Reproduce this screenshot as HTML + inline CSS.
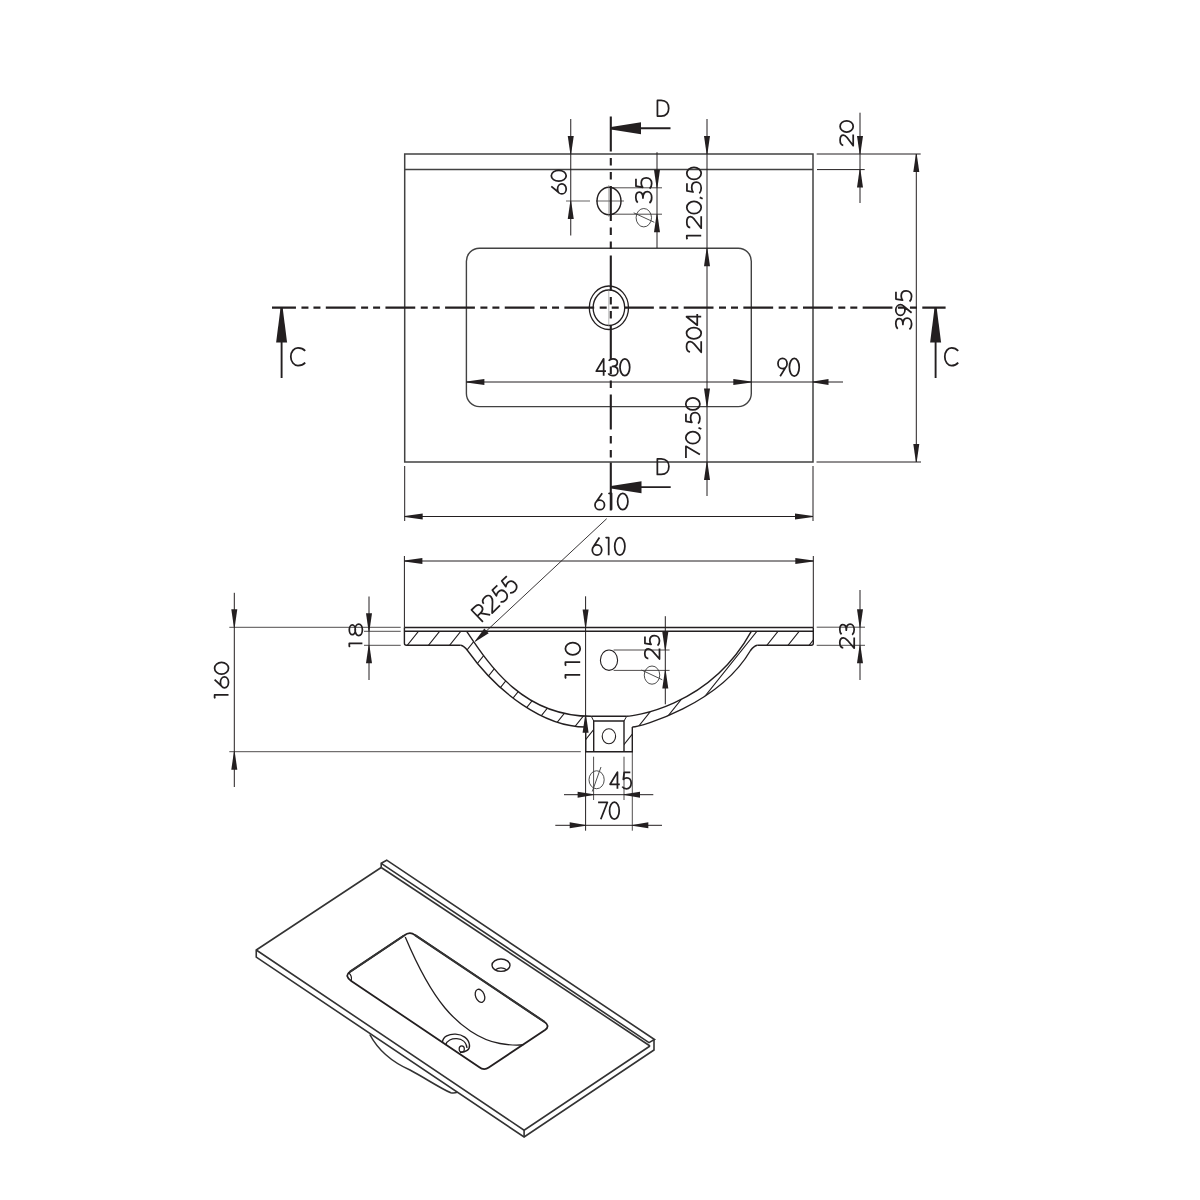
<!DOCTYPE html>
<html><head><meta charset="utf-8"><style>
html,body{margin:0;padding:0;background:#fff;}
svg{display:block;}
text{font-family:"Liberation Sans",sans-serif;}
svg text{opacity:0.999;}
</style></head><body>
<svg width="1200" height="1200" viewBox="0 0 1200 1200">
<rect width="1200" height="1200" fill="#fff"/>
<path d="M404.7,154.0H813.0V462.0H404.7Z" stroke="#424242" stroke-width="1.5" fill="none" />
<line x1="404.70" y1="169.60" x2="813.00" y2="169.60" stroke="#424242" stroke-width="1.5" />
<rect x="466.4" y="248.2" width="284.9" height="158.4" rx="13" ry="13" fill="none" stroke="#424242" stroke-width="1.4"/>
<ellipse cx="609" cy="201" rx="12" ry="13.8" fill="none" stroke="#231f20" stroke-width="1.4"/>
<line x1="566.00" y1="201.00" x2="590.00" y2="201.00" stroke="#231f20" stroke-width="0.7" />
<line x1="596.00" y1="201.00" x2="624.00" y2="201.00" stroke="#231f20" stroke-width="0.7" />
<line x1="608.80" y1="185.00" x2="608.80" y2="217.00" stroke="#777" stroke-width="0.6" />
<ellipse cx="608.9" cy="307.75" rx="19.6" ry="21.75" fill="none" stroke="#231f20" stroke-width="1.3"/>
<ellipse cx="608.9" cy="307.75" rx="15.8" ry="17.75" fill="none" stroke="#231f20" stroke-width="1.3"/>
<line x1="608.80" y1="290.00" x2="608.80" y2="326.00" stroke="#888" stroke-width="0.6" />
<line x1="272.00" y1="307.60" x2="945.60" y2="307.60" stroke="#231f20" stroke-width="2.1" stroke-dasharray="29.8 5.5 7 5 7 5.35" stroke-dashoffset="5.85"/>
<line x1="610.80" y1="116.50" x2="610.80" y2="462.00" stroke="#231f20" stroke-width="2.1" stroke-dasharray="35 6.5 7.5 6.5 7.5 6.5"/>
<line x1="610.80" y1="462.50" x2="610.80" y2="510.50" stroke="#231f20" stroke-width="2.1" />
<line x1="611.00" y1="128.25" x2="670.50" y2="128.25" stroke="#231f20" stroke-width="1.8" />
<path d="M611.00,127.05L641.00,122.25L641.00,134.25L611.00,129.45Z" fill="#231f20" stroke="none"/>
<line x1="611.00" y1="487.20" x2="670.70" y2="487.20" stroke="#231f20" stroke-width="1.8" />
<path d="M611.00,486.00L641.50,481.20L641.50,493.20L611.00,488.40Z" fill="#231f20" stroke="none"/>
<g transform="translate(656.60,100.40) scale(0.2086,0.1570)" fill="none" stroke="#231f20" stroke-width="1.75" stroke-linejoin="round"><path vector-effect="non-scaling-stroke" transform="translate(0.0,0)" d="M4,0 V100 H22 C46,100 58,78 58,50 C58,22 46,0 22,0 Z"/></g>
<g transform="translate(656.50,458.80) scale(0.2138,0.1560)" fill="none" stroke="#231f20" stroke-width="1.75" stroke-linejoin="round"><path vector-effect="non-scaling-stroke" transform="translate(0.0,0)" d="M4,0 V100 H22 C46,100 58,78 58,50 C58,22 46,0 22,0 Z"/></g>
<line x1="281.60" y1="307.60" x2="281.60" y2="378.00" stroke="#231f20" stroke-width="1.9" />
<path d="M282.60,307.60L287.10,342.40L276.10,342.40L280.60,307.60Z" fill="#231f20" stroke="none"/>
<line x1="935.60" y1="307.60" x2="935.60" y2="378.00" stroke="#231f20" stroke-width="1.9" />
<path d="M936.60,307.60L941.10,342.40L930.10,342.40L934.60,307.60Z" fill="#231f20" stroke="none"/>
<g transform="translate(290.80,347.80) scale(0.2483,0.1780)" fill="none" stroke="#231f20" stroke-width="1.75" stroke-linejoin="round"><path vector-effect="non-scaling-stroke" transform="translate(0.0,0)" d="M58,17 C51,6 40,0 29,0 C13,0 0,22 0,50 C0,78 13,100 29,100 C40,100 51,94 58,83"/></g>
<g transform="translate(944.80,347.80) scale(0.2310,0.1780)" fill="none" stroke="#231f20" stroke-width="1.75" stroke-linejoin="round"><path vector-effect="non-scaling-stroke" transform="translate(0.0,0)" d="M58,17 C51,6 40,0 29,0 C13,0 0,22 0,50 C0,78 13,100 29,100 C40,100 51,94 58,83"/></g>
<line x1="570.75" y1="119.00" x2="570.75" y2="235.50" stroke="#231f20" stroke-width="1.0" />
<path d="M570.35,154.00L567.75,136.00L573.75,136.00L571.15,154.00Z" fill="#231f20" stroke="none"/>
<path d="M571.15,201.00L573.75,219.00L567.75,219.00L570.35,201.00Z" fill="#231f20" stroke="none"/>
<g transform="translate(551.30,194.20) rotate(-90) scale(0.2025,0.1490)" fill="none" stroke="#231f20" stroke-width="1.75" stroke-linejoin="round"><path vector-effect="non-scaling-stroke" transform="translate(0.0,0)" d="M39,0 L6,54 M1,71A25,29 0 1,0 51,71A25,29 0 1,0 1,71Z"/><path vector-effect="non-scaling-stroke" transform="translate(64.0,0)" d="M0,50A27,50 0 1,0 54,50A27,50 0 1,0 0,50Z"/></g>
<line x1="612.50" y1="187.80" x2="662.00" y2="187.80" stroke="#231f20" stroke-width="0.8" />
<line x1="612.50" y1="214.20" x2="662.00" y2="214.20" stroke="#231f20" stroke-width="0.8" />
<line x1="657.00" y1="152.20" x2="657.00" y2="248.00" stroke="#231f20" stroke-width="1.0" />
<path d="M656.60,187.80L654.00,169.80L660.00,169.80L657.40,187.80Z" fill="#231f20" stroke="none"/>
<path d="M657.40,214.20L660.00,232.20L654.00,232.20L656.60,214.20Z" fill="#231f20" stroke="none"/>
<g transform="translate(635.80,203.20) rotate(-90) scale(0.2153,0.1590)" fill="none" stroke="#231f20" stroke-width="1.75" stroke-linejoin="round"><path vector-effect="non-scaling-stroke" transform="translate(0.0,0)" d="M3,12 C9,4 17,0 27,0 C41,0 51,9 51,22 C51,36 41,45 24,45 C43,45 54,57 54,72 C54,88 42,100 27,100 C16,100 6,95 1,86"/><path vector-effect="non-scaling-stroke" transform="translate(66.0,0)" d="M47,1 H13 L8,43 C14,37 21,34 28,34 C43,34 52,47 52,66 C52,86 41,100 26,100 C16,100 7,95 2,87"/></g>
<line x1="707.00" y1="119.00" x2="707.00" y2="496.00" stroke="#231f20" stroke-width="1.0" />
<path d="M706.60,154.00L704.00,136.00L710.00,136.00L707.40,154.00Z" fill="#231f20" stroke="none"/>
<path d="M707.40,248.20L710.00,266.20L704.00,266.20L706.60,248.20Z" fill="#231f20" stroke="none"/>
<path d="M706.60,406.60L704.00,388.60L710.00,388.60L707.40,406.60Z" fill="#231f20" stroke="none"/>
<path d="M707.40,462.00L710.00,480.00L704.00,480.00L706.60,462.00Z" fill="#231f20" stroke="none"/>
<g transform="translate(686.80,239.20) rotate(-90) scale(0.2247,0.1440)" fill="none" stroke="#231f20" stroke-width="1.75" stroke-linejoin="round"><path vector-effect="non-scaling-stroke" transform="translate(0.0,0)" d="M0,4 L4,0 H16 V100"/><path vector-effect="non-scaling-stroke" transform="translate(48.0,0)" d="M3,24 C4,9 15,0 28,0 C42,0 52,10 52,25 C52,36 47,44 40,53 L1,100 H54"/><path vector-effect="non-scaling-stroke" transform="translate(114.0,0)" d="M0,50A27,50 0 1,0 54,50A27,50 0 1,0 0,50Z"/><path vector-effect="non-scaling-stroke" transform="translate(180.0,0)" d="M6,90 L0,110"/><path vector-effect="non-scaling-stroke" transform="translate(202.0,0)" d="M47,1 H13 L8,43 C14,37 21,34 28,34 C43,34 52,47 52,66 C52,86 41,100 26,100 C16,100 7,95 2,87"/><path vector-effect="non-scaling-stroke" transform="translate(266.0,0)" d="M0,50A27,50 0 1,0 54,50A27,50 0 1,0 0,50Z"/></g>
<g transform="translate(686.55,352.45) rotate(-90) scale(0.2065,0.1465)" fill="none" stroke="#231f20" stroke-width="1.75" stroke-linejoin="round"><path vector-effect="non-scaling-stroke" transform="translate(0.0,0)" d="M3,24 C4,9 15,0 28,0 C42,0 52,10 52,25 C52,36 47,44 40,53 L1,100 H54"/><path vector-effect="non-scaling-stroke" transform="translate(66.0,0)" d="M0,50A27,50 0 1,0 54,50A27,50 0 1,0 0,50Z"/><path vector-effect="non-scaling-stroke" transform="translate(132.0,0)" d="M41,100 V0 L0,73 H54"/></g>
<g transform="translate(685.80,457.90) rotate(-90) scale(0.2219,0.1410)" fill="none" stroke="#231f20" stroke-width="1.75" stroke-linejoin="round"><path vector-effect="non-scaling-stroke" transform="translate(0.0,0)" d="M0,1 H52 L15,100"/><path vector-effect="non-scaling-stroke" transform="translate(64.0,0)" d="M0,50A27,50 0 1,0 54,50A27,50 0 1,0 0,50Z"/><path vector-effect="non-scaling-stroke" transform="translate(130.0,0)" d="M6,90 L0,110"/><path vector-effect="non-scaling-stroke" transform="translate(152.0,0)" d="M47,1 H13 L8,43 C14,37 21,34 28,34 C43,34 52,47 52,66 C52,86 41,100 26,100 C16,100 7,95 2,87"/><path vector-effect="non-scaling-stroke" transform="translate(216.0,0)" d="M0,50A27,50 0 1,0 54,50A27,50 0 1,0 0,50Z"/></g>
<line x1="816.70" y1="154.00" x2="920.70" y2="154.00" stroke="#231f20" stroke-width="1.0" />
<line x1="817.00" y1="169.60" x2="864.70" y2="169.60" stroke="#231f20" stroke-width="1.0" />
<line x1="860.00" y1="112.70" x2="860.00" y2="203.00" stroke="#231f20" stroke-width="1.0" />
<path d="M859.60,154.00L857.00,136.00L863.00,136.00L860.40,154.00Z" fill="#231f20" stroke="none"/>
<path d="M860.40,169.60L863.00,187.60L857.00,187.60L859.60,169.60Z" fill="#231f20" stroke="none"/>
<g transform="translate(840.10,145.90) rotate(-90) scale(0.2092,0.1310)" fill="none" stroke="#231f20" stroke-width="1.75" stroke-linejoin="round"><path vector-effect="non-scaling-stroke" transform="translate(0.0,0)" d="M3,24 C4,9 15,0 28,0 C42,0 52,10 52,25 C52,36 47,44 40,53 L1,100 H54"/><path vector-effect="non-scaling-stroke" transform="translate(66.0,0)" d="M0,50A27,50 0 1,0 54,50A27,50 0 1,0 0,50Z"/></g>
<line x1="816.50" y1="462.00" x2="921.00" y2="462.00" stroke="#231f20" stroke-width="1.0" />
<line x1="916.30" y1="154.00" x2="916.30" y2="462.00" stroke="#231f20" stroke-width="1.0" />
<path d="M916.70,154.00L919.30,172.00L913.30,172.00L915.90,154.00Z" fill="#231f20" stroke="none"/>
<path d="M915.90,462.00L913.30,444.00L919.30,444.00L916.70,462.00Z" fill="#231f20" stroke="none"/>
<g transform="translate(895.80,329.60) rotate(-90) scale(0.2132,0.1580)" fill="none" stroke="#231f20" stroke-width="1.75" stroke-linejoin="round"><path vector-effect="non-scaling-stroke" transform="translate(0.0,0)" d="M3,12 C9,4 17,0 27,0 C41,0 51,9 51,22 C51,36 41,45 24,45 C43,45 54,57 54,72 C54,88 42,100 27,100 C16,100 6,95 1,86"/><path vector-effect="non-scaling-stroke" transform="translate(66.0,0)" d="M1,29A25,29 0 1,0 51,29A25,29 0 1,0 1,29Z M46,46 L13,100"/><path vector-effect="non-scaling-stroke" transform="translate(130.0,0)" d="M47,1 H13 L8,43 C14,37 21,34 28,34 C43,34 52,47 52,66 C52,86 41,100 26,100 C16,100 7,95 2,87"/></g>
<line x1="466.40" y1="382.00" x2="843.00" y2="382.00" stroke="#231f20" stroke-width="1.0" />
<path d="M466.40,381.60L484.40,379.00L484.40,385.00L466.40,382.40Z" fill="#231f20" stroke="none"/>
<path d="M751.30,382.40L733.30,385.00L733.30,379.00L751.30,381.60Z" fill="#231f20" stroke="none"/>
<path d="M813.00,381.60L828.50,379.00L828.50,385.00L813.00,382.40Z" fill="#231f20" stroke="none"/>
<g transform="translate(596.30,358.80) scale(0.1796,0.1690)" fill="none" stroke="#231f20" stroke-width="1.75" stroke-linejoin="round"><path vector-effect="non-scaling-stroke" transform="translate(0.0,0)" d="M41,100 V0 L0,73 H54"/><path vector-effect="non-scaling-stroke" transform="translate(66.0,0)" d="M3,12 C9,4 17,0 27,0 C41,0 51,9 51,22 C51,36 41,45 24,45 C43,45 54,57 54,72 C54,88 42,100 27,100 C16,100 6,95 1,86"/><path vector-effect="non-scaling-stroke" transform="translate(132.0,0)" d="M0,50A27,50 0 1,0 54,50A27,50 0 1,0 0,50Z"/></g>
<g transform="translate(777.80,358.40) scale(0.1814,0.1780)" fill="none" stroke="#231f20" stroke-width="1.75" stroke-linejoin="round"><path vector-effect="non-scaling-stroke" transform="translate(0.0,0)" d="M1,29A25,29 0 1,0 51,29A25,29 0 1,0 1,29Z M46,46 L13,100"/><path vector-effect="non-scaling-stroke" transform="translate(64.0,0)" d="M0,50A27,50 0 1,0 54,50A27,50 0 1,0 0,50Z"/></g>
<line x1="404.70" y1="466.00" x2="404.70" y2="521.00" stroke="#231f20" stroke-width="1.0" />
<line x1="813.00" y1="466.00" x2="813.00" y2="521.00" stroke="#231f20" stroke-width="1.0" />
<line x1="404.70" y1="516.50" x2="813.00" y2="516.50" stroke="#231f20" stroke-width="1.0" />
<path d="M404.70,516.10L422.70,513.50L422.70,519.50L404.70,516.90Z" fill="#231f20" stroke="none"/>
<path d="M813.00,516.90L795.00,519.50L795.00,513.50L813.00,516.10Z" fill="#231f20" stroke="none"/>
<g transform="translate(594.80,493.30) scale(0.1902,0.1640)" fill="none" stroke="#231f20" stroke-width="1.75" stroke-linejoin="round"><path vector-effect="non-scaling-stroke" transform="translate(0.0,0)" d="M39,0 L6,54 M1,71A25,29 0 1,0 51,71A25,29 0 1,0 1,71Z"/><path vector-effect="non-scaling-stroke" transform="translate(72.0,0)" d="M0,4 L4,0 H16 V100"/><path vector-effect="non-scaling-stroke" transform="translate(120.0,0)" d="M0,50A27,50 0 1,0 54,50A27,50 0 1,0 0,50Z"/></g>
<line x1="404.40" y1="556.00" x2="404.40" y2="627.50" stroke="#231f20" stroke-width="1.0" />
<line x1="813.30" y1="556.00" x2="813.30" y2="627.50" stroke="#231f20" stroke-width="1.0" />
<line x1="404.40" y1="561.00" x2="813.30" y2="561.00" stroke="#231f20" stroke-width="1.0" />
<path d="M404.40,560.60L422.40,558.00L422.40,564.00L404.40,561.40Z" fill="#231f20" stroke="none"/>
<path d="M813.30,561.40L795.30,564.00L795.30,558.00L813.30,560.60Z" fill="#231f20" stroke="none"/>
<g transform="translate(592.10,537.50) scale(0.1885,0.1770)" fill="none" stroke="#231f20" stroke-width="1.75" stroke-linejoin="round"><path vector-effect="non-scaling-stroke" transform="translate(0.0,0)" d="M39,0 L6,54 M1,71A25,29 0 1,0 51,71A25,29 0 1,0 1,71Z"/><path vector-effect="non-scaling-stroke" transform="translate(72.0,0)" d="M0,4 L4,0 H16 V100"/><path vector-effect="non-scaling-stroke" transform="translate(120.0,0)" d="M0,50A27,50 0 1,0 54,50A27,50 0 1,0 0,50Z"/></g>
<line x1="404.40" y1="627.50" x2="813.30" y2="627.50" stroke="#231f20" stroke-width="1.4" />
<line x1="404.40" y1="631.30" x2="813.30" y2="631.30" stroke="#231f20" stroke-width="1.4" />
<path d="M404.4,627.5V643.3Q404.4,645.3 406.4,645.3H460.7" stroke="#231f20" stroke-width="1.4" fill="none" />
<path d="M813.3,627.5V643.3Q813.3,645.3 811.3,645.3H757.3" stroke="#231f20" stroke-width="1.4" fill="none" />
<path d="M466.7,631.3 C490.8,667.5 524,716.3 591.3,716.3" stroke="#231f20" stroke-width="1.4" fill="none" />
<path d="M626.7,716.3 C630,716.3 708.2,708.8 751.3,631.3" stroke="#231f20" stroke-width="1.4" fill="none" />
<path d="M460.7,645.3 Q464,646 467.5,650.5 C497.2,692.1 543.3,727 585.7,727" stroke="#231f20" stroke-width="1.4" fill="none" />
<path d="M632.3,727 C641,727 718.8,704.4 750.5,650.5 Q754,646 757.3,645.3" stroke="#231f20" stroke-width="1.4" fill="none" />
<line x1="591.30" y1="716.30" x2="626.70" y2="716.30" stroke="#231f20" stroke-width="1.4" />
<path d="M585.7,727V751.7H632.3V727" stroke="#231f20" stroke-width="1.4" fill="none" />
<path d="M593.7,751.7V721H624V751.7" stroke="#231f20" stroke-width="1.4" fill="none" />
<line x1="591.30" y1="716.30" x2="593.70" y2="721.00" stroke="#231f20" stroke-width="1.0" />
<line x1="626.70" y1="716.30" x2="624.00" y2="721.00" stroke="#231f20" stroke-width="1.0" />
<ellipse cx="608.9" cy="736.3" rx="6.7" ry="7.5" fill="none" stroke="#231f20" stroke-width="1.1"/>
<clipPath id="hc"><path d="M404.4,631.3H466.7C490.8,667.5 524,716.3 591.3,716.3L593.7,721V751.7H585.7V727C543.3,727 497.2,692.1 467.5,650.5Q464,646 460.7,645.3H404.4Z"/><path d="M813.3,631.3H751.3C708.2,708.8 630,716.3 626.7,716.3L624,721V751.7H632.3V727C641,727 718.8,704.4 750.5,650.5Q754,646 757.3,645.3H813.3Z"/></clipPath>
<path d="M337.79,600L209.79,760M358.94,600L230.94,760M380.09,600L252.09,760M401.24,600L273.24,760M422.39,600L294.39,760M443.54,600L315.54,760M464.69,600L336.69,760M485.84,600L357.84,760M506.99,600L378.99,760M528.14,600L400.14,760M549.29,600L421.29,760M570.44,600L442.44,760M591.59,600L463.59,760M612.74,600L484.74,760M633.89,600L505.89,760M655.04,600L527.04,760M676.19,600L548.19,760M697.34,600L569.34,760M718.49,600L590.49,760M739.64,600L611.64,760M760.79,600L632.79,760M781.94,600L653.94,760M803.09,600L675.09,760M824.24,600L696.24,760M845.39,600L717.39,760M866.54,600L738.54,760M887.69,600L759.69,760M908.84,600L780.84,760M929.99,600L801.99,760M951.14,600L823.14,760M972.29,600L844.29,760M993.44,600L865.44,760M1014.59,600L886.59,760M1035.74,600L907.74,760M1056.89,600L928.89,760M1078.04,600L950.04,760M1099.19,600L971.19,760M1120.34,600L992.34,760M1141.49,600L1013.49,760M1162.64,600L1034.64,760M1183.79,600L1055.79,760M1204.94,600L1076.94,760M1226.09,600L1098.09,760M1247.24,600L1119.24,760M1268.39,600L1140.39,760" stroke="#231f20" stroke-width="1.1" fill="none" clip-path="url(#hc)"/>
<line x1="364.00" y1="631.30" x2="400.70" y2="631.30" stroke="#231f20" stroke-width="0.8" />
<line x1="364.00" y1="645.30" x2="400.70" y2="645.30" stroke="#231f20" stroke-width="0.8" />
<line x1="369.00" y1="596.50" x2="369.00" y2="680.00" stroke="#231f20" stroke-width="1.0" />
<path d="M368.60,631.30L366.00,613.30L372.00,613.30L369.40,631.30Z" fill="#231f20" stroke="none"/>
<path d="M369.40,645.30L372.00,663.30L366.00,663.30L368.60,645.30Z" fill="#231f20" stroke="none"/>
<g transform="translate(349.30,647.00) rotate(-90) scale(0.2320,0.1310)" fill="none" stroke="#231f20" stroke-width="1.75" stroke-linejoin="round"><path vector-effect="non-scaling-stroke" transform="translate(0.0,0)" d="M0,4 L4,0 H16 V100"/><path vector-effect="non-scaling-stroke" transform="translate(48.0,0)" d="M5,23A21,23 0 1,0 47,23A21,23 0 1,0 5,23ZM1,72A25,28 0 1,0 51,72A25,28 0 1,0 1,72Z"/></g>
<line x1="229.30" y1="627.30" x2="400.70" y2="627.30" stroke="#231f20" stroke-width="0.8" />
<line x1="229.30" y1="751.70" x2="580.80" y2="751.70" stroke="#231f20" stroke-width="0.8" />
<line x1="234.30" y1="592.80" x2="234.30" y2="787.00" stroke="#231f20" stroke-width="1.0" />
<path d="M233.90,627.30L231.30,609.30L237.30,609.30L234.70,627.30Z" fill="#231f20" stroke="none"/>
<path d="M234.70,751.70L237.30,769.70L231.30,769.70L233.90,751.70Z" fill="#231f20" stroke="none"/>
<g transform="translate(214.60,698.40) rotate(-90) scale(0.2169,0.1390)" fill="none" stroke="#231f20" stroke-width="1.75" stroke-linejoin="round"><path vector-effect="non-scaling-stroke" transform="translate(0.0,0)" d="M0,4 L4,0 H16 V100"/><path vector-effect="non-scaling-stroke" transform="translate(48.0,0)" d="M39,0 L6,54 M1,71A25,29 0 1,0 51,71A25,29 0 1,0 1,71Z"/><path vector-effect="non-scaling-stroke" transform="translate(112.0,0)" d="M0,50A27,50 0 1,0 54,50A27,50 0 1,0 0,50Z"/></g>
<line x1="585.60" y1="596.30" x2="585.60" y2="830.70" stroke="#231f20" stroke-width="1.0" />
<path d="M585.20,627.60L582.60,609.60L588.60,609.60L586.00,627.60Z" fill="#231f20" stroke="none"/>
<path d="M586.00,714.80L588.60,732.80L582.60,732.80L585.20,714.80Z" fill="#231f20" stroke="none"/>
<g transform="translate(565.40,678.40) rotate(-90) scale(0.2266,0.1480)" fill="none" stroke="#231f20" stroke-width="1.75" stroke-linejoin="round"><path vector-effect="non-scaling-stroke" transform="translate(0.0,0)" d="M0,4 L4,0 H16 V100"/><path vector-effect="non-scaling-stroke" transform="translate(56.0,0)" d="M0,4 L4,0 H16 V100"/><path vector-effect="non-scaling-stroke" transform="translate(104.0,0)" d="M0,50A27,50 0 1,0 54,50A27,50 0 1,0 0,50Z"/></g>
<ellipse cx="609" cy="660.2" rx="8.6" ry="10.2" fill="none" stroke="#231f20" stroke-width="1.1"/>
<line x1="613.60" y1="650.00" x2="669.60" y2="650.00" stroke="#231f20" stroke-width="0.8" />
<line x1="613.60" y1="670.40" x2="669.60" y2="670.40" stroke="#231f20" stroke-width="0.8" />
<line x1="665.30" y1="616.20" x2="665.30" y2="704.30" stroke="#231f20" stroke-width="1.0" />
<path d="M664.90,650.00L662.30,632.00L668.30,632.00L665.70,650.00Z" fill="#231f20" stroke="none"/>
<path d="M665.70,670.40L668.30,688.40L662.30,688.40L664.90,670.40Z" fill="#231f20" stroke="none"/>
<g transform="translate(644.80,659.20) rotate(-90) scale(0.2000,0.1470)" fill="none" stroke="#231f20" stroke-width="1.75" stroke-linejoin="round"><path vector-effect="non-scaling-stroke" transform="translate(0.0,0)" d="M3,24 C4,9 15,0 28,0 C42,0 52,10 52,25 C52,36 47,44 40,53 L1,100 H54"/><path vector-effect="non-scaling-stroke" transform="translate(66.0,0)" d="M47,1 H13 L8,43 C14,37 21,34 28,34 C43,34 52,47 52,66 C52,86 41,100 26,100 C16,100 7,95 2,87"/></g>
<line x1="816.70" y1="627.20" x2="865.00" y2="627.20" stroke="#231f20" stroke-width="0.8" />
<line x1="816.70" y1="645.30" x2="865.00" y2="645.30" stroke="#231f20" stroke-width="0.8" />
<line x1="860.00" y1="590.00" x2="860.00" y2="680.00" stroke="#231f20" stroke-width="1.0" />
<path d="M859.60,627.20L857.00,609.20L863.00,609.20L860.40,627.20Z" fill="#231f20" stroke="none"/>
<path d="M860.40,645.30L863.00,663.30L857.00,663.30L859.60,645.30Z" fill="#231f20" stroke="none"/>
<g transform="translate(839.80,648.40) rotate(-90) scale(0.2025,0.1440)" fill="none" stroke="#231f20" stroke-width="1.75" stroke-linejoin="round"><path vector-effect="non-scaling-stroke" transform="translate(0.0,0)" d="M3,24 C4,9 15,0 28,0 C42,0 52,10 52,25 C52,36 47,44 40,53 L1,100 H54"/><path vector-effect="non-scaling-stroke" transform="translate(66.0,0)" d="M3,12 C9,4 17,0 27,0 C41,0 51,9 51,22 C51,36 41,45 24,45 C43,45 54,57 54,72 C54,88 42,100 27,100 C16,100 6,95 1,86"/></g>
<line x1="606.70" y1="518.70" x2="475.30" y2="641.30" stroke="#231f20" stroke-width="0.9" />
<path d="M475.03,641.01L484.32,628.56L488.68,633.24L475.57,641.59Z" fill="#231f20" stroke="none"/>
<line x1="632.30" y1="751.70" x2="632.30" y2="830.70" stroke="#231f20" stroke-width="0.8" />
<line x1="593.60" y1="756.70" x2="593.60" y2="800.00" stroke="#231f20" stroke-width="0.8" />
<line x1="624.00" y1="756.70" x2="624.00" y2="800.00" stroke="#231f20" stroke-width="0.8" />
<line x1="564.00" y1="794.70" x2="653.30" y2="794.70" stroke="#231f20" stroke-width="1.0" />
<path d="M593.60,795.10L577.60,797.70L577.60,791.70L593.60,794.30Z" fill="#231f20" stroke="none"/>
<path d="M624.00,794.30L640.00,791.70L640.00,797.70L624.00,795.10Z" fill="#231f20" stroke="none"/>
<g transform="translate(610.10,772.10) scale(0.1788,0.1670)" fill="none" stroke="#231f20" stroke-width="1.75" stroke-linejoin="round"><path vector-effect="non-scaling-stroke" transform="translate(0.0,0)" d="M41,100 V0 L0,73 H54"/><path vector-effect="non-scaling-stroke" transform="translate(66.0,0)" d="M47,1 H13 L8,43 C14,37 21,34 28,34 C43,34 52,47 52,66 C52,86 41,100 26,100 C16,100 7,95 2,87"/></g>
<line x1="555.30" y1="825.30" x2="662.00" y2="825.30" stroke="#231f20" stroke-width="1.0" />
<path d="M585.70,825.70L569.70,828.30L569.70,822.30L585.70,824.90Z" fill="#231f20" stroke="none"/>
<path d="M632.30,824.90L648.30,822.30L648.30,828.30L632.30,825.70Z" fill="#231f20" stroke="none"/>
<g transform="translate(598.10,802.10) scale(0.1788,0.1710)" fill="none" stroke="#231f20" stroke-width="1.75" stroke-linejoin="round"><path vector-effect="non-scaling-stroke" transform="translate(0.0,0)" d="M0,1 H52 L15,100"/><path vector-effect="non-scaling-stroke" transform="translate(64.0,0)" d="M0,50A27,50 0 1,0 54,50A27,50 0 1,0 0,50Z"/></g>
<path d="M381.2,867.5L256.25,950V957.1L524.1,1137L654,1050V1039.5" stroke="#333" stroke-width="1.6" fill="none" />
<path d="M256.25,950L524.1,1130.2L650,1046" stroke="#333" stroke-width="1.6" fill="none" />
<line x1="524.10" y1="1130.20" x2="524.10" y2="1137.00" stroke="#333" stroke-width="1.6" />
<path d="M381.2,867.5V863.3L386.7,860.2L654.5,1039.5L649,1042.6L381.2,863.3" stroke="#333" stroke-width="1.6" fill="none" />
<line x1="381.20" y1="867.50" x2="650.00" y2="1046.00" stroke="#333" stroke-width="1.6" />
<g transform="translate(482.50,622.30) rotate(-44) scale(0.2057,0.1650) translate(0,-100)" fill="none" stroke="#231f20" stroke-width="1.75" stroke-linejoin="round"><path vector-effect="non-scaling-stroke" transform="translate(0.0,0)" d="M3,100 V0 H25 C41,0 50,12 50,26 C50,41 40,51 24,51 H3 M23,51 L52,100"/><path vector-effect="non-scaling-stroke" transform="translate(64.0,0)" d="M3,24 C4,9 15,0 28,0 C42,0 52,10 52,25 C52,36 47,44 40,53 L1,100 H54"/><path vector-effect="non-scaling-stroke" transform="translate(130.0,0)" d="M47,1 H13 L8,43 C14,37 21,34 28,34 C43,34 52,47 52,66 C52,86 41,100 26,100 C16,100 7,95 2,87"/><path vector-effect="non-scaling-stroke" transform="translate(194.0,0)" d="M47,1 H13 L8,43 C14,37 21,34 28,34 C43,34 52,47 52,66 C52,86 41,100 26,100 C16,100 7,95 2,87"/></g>
<ellipse cx="643.8" cy="217.7" rx="7.7" ry="9.2" fill="none" stroke="#3a3a3a" stroke-width="0.9"/>
<line x1="633.70" y1="212.80" x2="654.30" y2="222.30" stroke="#3a3a3a" stroke-width="0.9" />
<ellipse cx="652" cy="675.1" rx="7.75" ry="9.1" fill="none" stroke="#3a3a3a" stroke-width="0.9"/>
<line x1="641.50" y1="670.00" x2="662.25" y2="679.75" stroke="#3a3a3a" stroke-width="0.9" />
<ellipse cx="596.6" cy="779.75" rx="7.6" ry="9" fill="none" stroke="#3a3a3a" stroke-width="0.9"/>
<line x1="592.25" y1="791.50" x2="601.00" y2="767.00" stroke="#3a3a3a" stroke-width="0.9" />
<path d="M404.1,935.5 Q409.75,931 415,935.1 L544.3,1021.75 Q550.5,1026 545,1030 L488.75,1067.5 Q484,1071 479,1067 L351.25,980.9 Q344,976 349.75,971.9 Z" stroke="#231f20" stroke-width="1.8" fill="none" />
<path d="M415,935.1 L544.3,1021.75" stroke="#333" stroke-width="2.1" fill="none" />
<path d="M404.1,935.5 L349.75,971.9" stroke="#333" stroke-width="2.1" fill="none" />
<path d="M348.5,972.5 Q352.5,976 351.25,980.9" stroke="#231f20" stroke-width="1.2" fill="none" />
<path d="M405.25,937 C415,960 430,990 445,1008 C460,1026 480,1040 500,1043.5 Q515,1046 523.5,1044.6" stroke="#231f20" stroke-width="1.3" fill="none" />
<path d="M369.8,1034.5 C378,1050 392,1062 410,1070 C425,1078 440,1088 450.8,1092.8 Q454,1093.5 457.3,1092.3" stroke="#333" stroke-width="1.6" fill="none" />
<ellipse cx="501" cy="965.2" rx="9" ry="6.2" fill="none" stroke="#231f20" stroke-width="1.4"/>
<path d="M495.3,969.8 Q501,965.8 506.7,969.8" stroke="#231f20" stroke-width="1.3" fill="none" />
<ellipse cx="480" cy="995.8" rx="4.4" ry="6.8" transform="rotate(-22 480 995.8)" fill="none" stroke="#231f20" stroke-width="1.3"/>
<path d="M442.5,1042 C443,1031 468,1031 469.5,1045 C470,1050 466,1052 460,1052.5" stroke="#231f20" stroke-width="1.4" fill="none" />
<path d="M445.5,1045 C448,1036 466,1036 467,1048" stroke="#231f20" stroke-width="1.3" fill="none" />
<ellipse cx="461.75" cy="1049" rx="2.6" ry="3.1" fill="none" stroke="#231f20" stroke-width="1.2"/>
</svg></body></html>
